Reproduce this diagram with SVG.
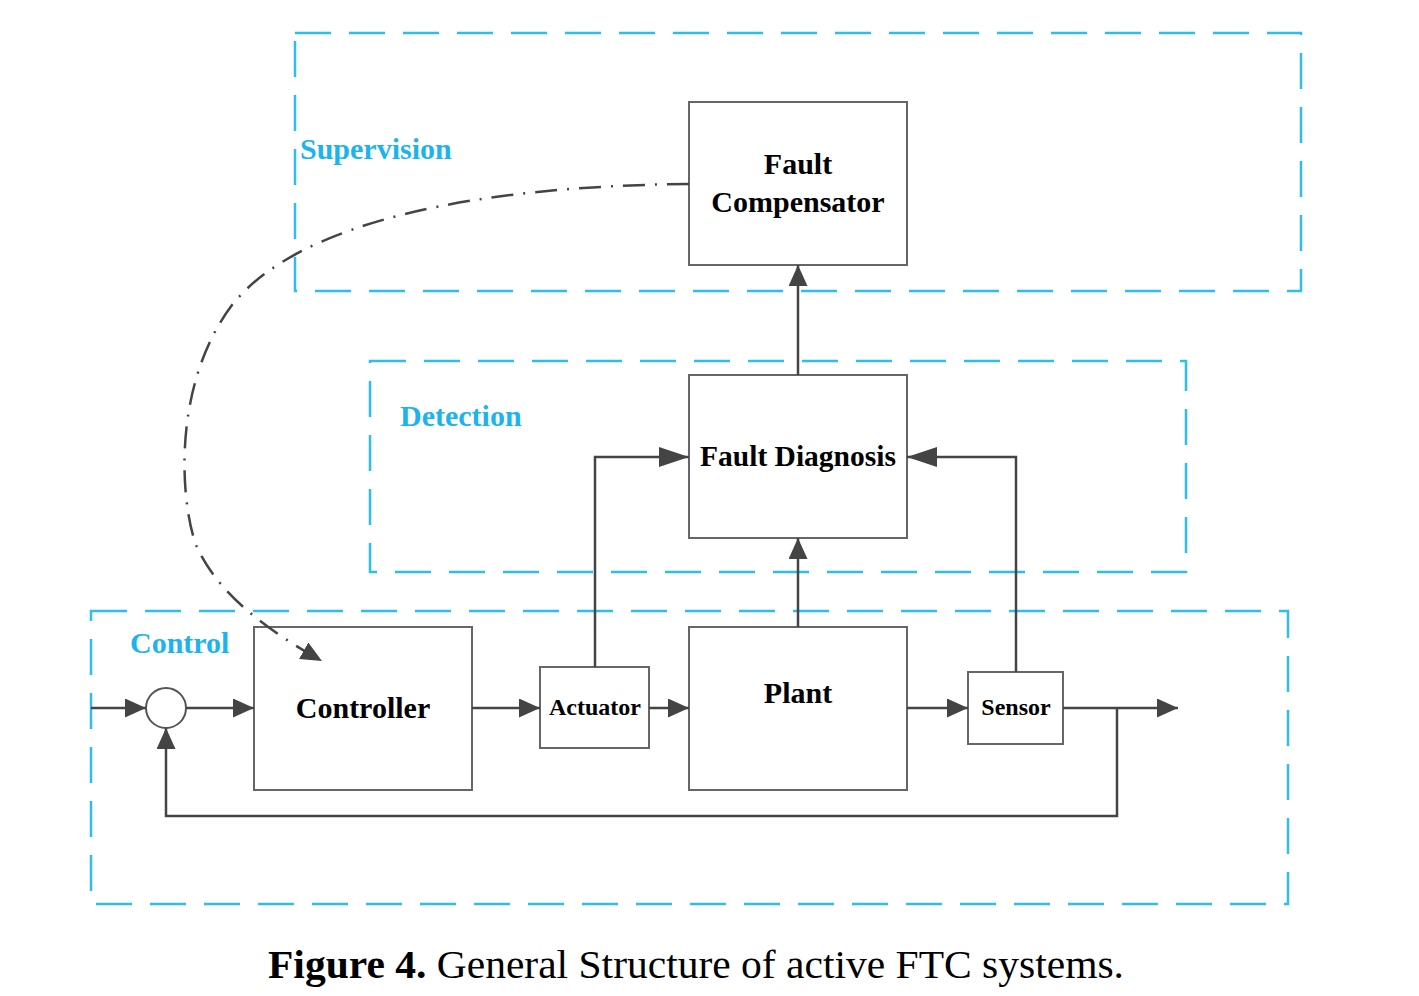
<svg xmlns="http://www.w3.org/2000/svg" width="1419" height="996" viewBox="0 0 1419 996">
<defs>
<marker id="ah" viewBox="0 0 21 19" refX="21" refY="9.5" markerWidth="21" markerHeight="19" markerUnits="userSpaceOnUse" orient="auto">
<path d="M0,0 L21,9.5 L0,19 Z" fill="#444"/>
</marker>
<marker id="ahl" viewBox="0 0 30 20" refX="30" refY="10" markerWidth="30" markerHeight="20" markerUnits="userSpaceOnUse" orient="auto">
<path d="M0,0 L30,10 L0,20 Z" fill="#444"/>
</marker>
</defs>
<style>
.grp{fill:none;stroke:#2fbdf0;stroke-width:2.5;stroke-dasharray:36 18}
.box{fill:#fff;stroke:#666;stroke-width:2}
.lbl{font-family:"Liberation Serif",serif;font-weight:bold;fill:#000;text-anchor:middle}
.glbl{font-family:"Liberation Serif",serif;font-weight:bold;fill:#1db3ee;font-size:30px}
.wire{fill:none;stroke:#444;stroke-width:2.5}
.dd{fill:none;stroke:#444;stroke-width:2.5;stroke-dasharray:22 10 2 10}
</style>
<rect width="1419" height="996" fill="#fff"/>
<g id="groups">
<rect class="grp" x="295" y="33" width="1006" height="258"/>
<rect class="grp" x="370" y="361" width="816" height="211"/>
<rect class="grp" x="91" y="611" width="1197" height="293"/>
<text class="glbl" x="300" y="159">Supervision</text>
<text class="glbl" x="400" y="426">Detection</text>
<text class="glbl" x="130" y="653">Control</text>
</g>
<g id="fault-compensator">
<rect class="box" x="689" y="102" width="218" height="163"/>
<text class="lbl" x="798" y="174" font-size="30">Fault</text>
<text class="lbl" x="798" y="212" font-size="30">Compensator</text>
</g>
<g id="fault-diagnosis">
<rect class="box" x="689" y="375" width="218" height="163"/>
<text class="lbl" x="798" y="466" font-size="29.5">Fault Diagnosis</text>
</g>
<g id="summing-junction">
<circle cx="166" cy="708" r="20" fill="#fff" stroke="#555" stroke-width="2"/>
</g>
<g id="controller">
<rect class="box" x="254" y="627" width="218" height="163"/>
<text class="lbl" x="363" y="718" font-size="30">Controller</text>
</g>
<g id="actuator">
<rect class="box" x="540" y="667" width="109" height="81"/>
<text class="lbl" x="595" y="715" font-size="24">Actuator</text>
</g>
<g id="plant">
<rect class="box" x="689" y="627" width="218" height="163"/>
<text class="lbl" x="798" y="703" font-size="30">Plant</text>
</g>
<g id="sensor">
<rect class="box" x="968" y="672" width="95" height="72"/>
<text class="lbl" x="1016" y="715" font-size="24">Sensor</text>
</g>
<g id="connectors">
<line class="wire" x1="91" y1="708" x2="146" y2="708" marker-end="url(#ah)"/>
<line class="wire" x1="186" y1="708" x2="254" y2="708" marker-end="url(#ah)"/>
<line class="wire" x1="472" y1="708" x2="540" y2="708" marker-end="url(#ah)"/>
<line class="wire" x1="649" y1="708" x2="689" y2="708" marker-end="url(#ah)"/>
<line class="wire" x1="907" y1="708" x2="968" y2="708" marker-end="url(#ah)"/>
<line class="wire" x1="1063" y1="708" x2="1178" y2="708" marker-end="url(#ah)"/>
<polyline class="wire" points="1117,708 1117,816 166,816 166,728" marker-end="url(#ah)"/>
<polyline class="wire" points="595,667 595,457 689,457" marker-end="url(#ahl)"/>
<polyline class="wire" points="1016,672 1016,457 907,457" marker-end="url(#ahl)"/>
<line class="wire" x1="798" y1="627" x2="798" y2="538" marker-end="url(#ah)"/>
<line class="wire" x1="798" y1="375" x2="798" y2="265" marker-end="url(#ah)"/>
<path class="dd" d="M689,184 C480,186 300,220 232,305 C172,385 180,500 196,545 C218,595 270,632 322,661" marker-end="url(#ah)"/>
</g>
<g id="caption">
<text x="268" y="978" textLength="856" lengthAdjust="spacingAndGlyphs" font-family="Liberation Serif,serif" font-size="40" fill="#000"><tspan font-weight="bold">Figure 4.</tspan> General Structure of active FTC systems.</text>
</g>
</svg>
